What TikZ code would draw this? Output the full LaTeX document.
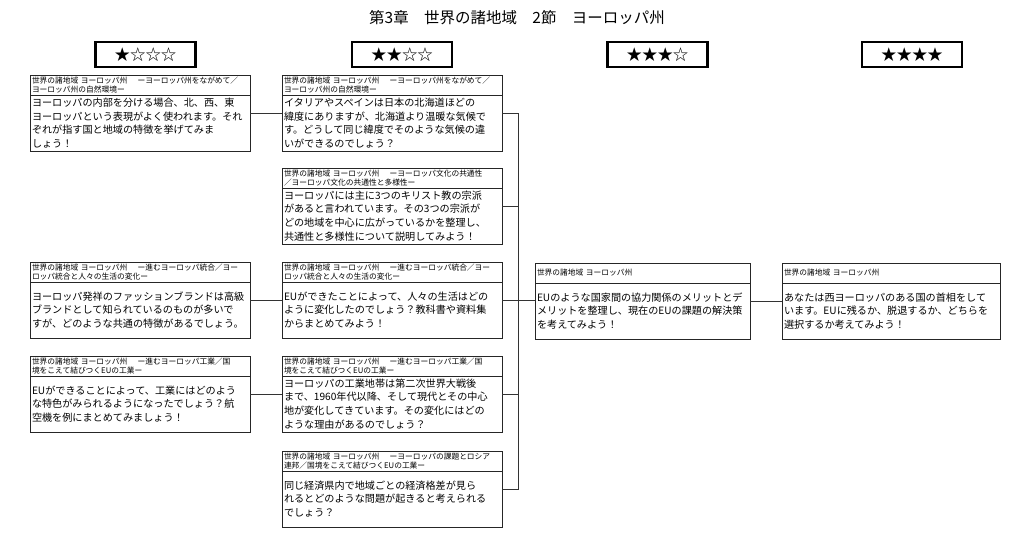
\documentclass[tikz,border=0pt]{standalone}
\usepackage{fontspec}
\setmainfont{Noto Sans CJK JP}
\usetikzlibrary{positioning,fit}

\begin{document}
\begin{tikzpicture}[
    x=0.25mm, y=-0.25mm,
    heading/.style={font=\fontsize{11}{12}\selectfont},
    starbox/.style={draw=black, line width=1.6pt, minimum width=25mm, minimum height=6.25mm, inner sep=0pt, font=\fontsize{11}{12}\selectfont},
    qhead/.style={draw=black!85, line width=0.6pt, outer sep=0pt, anchor=north west, text width=54mm, inner xsep=0.5mm, inner ysep=0.4pt, minimum height=5mm, align=left, font=\fontsize{5.5}{6.8}\selectfont},
    qbody/.style={draw=black!85, line width=0.6pt, outer sep=0pt, text width=54mm, inner xsep=0.5mm, inner ysep=0.4pt, minimum height=14mm, align=left, font=\fontsize{7.2}{9.8}\selectfont},
    qbox/.style={inner sep=0pt, outer sep=0pt},
    link/.style={draw=black!80, line width=0.6pt}
]
    \useasboundingbox (0,0) rectangle (1024,551);

    % Title and level badges
    \node[heading] (title) at (517,18) {第3章　世界の諸地域　2節　ヨーロッパ州};
    \node[starbox] (lv1) at (145.5,54.5) {★☆☆☆};
    \node[starbox] (lv2) at (402,54.5) {★★☆☆};
    \node[starbox] (lv3) at (657.5,54.5) {★★★☆};
    \node[starbox] (lv4) at (912,54.5) {★★★★};

    % ==================== COLUMN 1 ====================
    \node[qhead] (c1a-h) at (30,75) {世界の諸地域 ヨーロッパ州　 ーヨーロッパ州をながめて／\\ヨーロッパ州の自然環境ー};
    \node[qbody, below=0pt of c1a-h] (c1a-b) {ヨーロッパの内部を分ける場合、北、西、東\\ヨーロッパという表現がよく使われます。それ\\ぞれが指す国と地域の特徴を挙げてみま\\しょう！};
    \node[qbox, fit=(c1a-h)(c1a-b)] (c1a) {};

    \node[qhead] (c1b-h) at (30,262) {世界の諸地域 ヨーロッパ州　 ー進むヨーロッパ統合／ヨー\\ロッパ統合と人々の生活の変化ー};
    \node[qbody, below=0pt of c1b-h] (c1b-b) {ヨーロッパ発祥のファッションブランドは高級\\ブランドとして知られているのものが多いで\\すが、どのような共通の特徴があるでしょう。};
    \node[qbox, fit=(c1b-h)(c1b-b)] (c1b) {};

    \node[qhead] (c1c-h) at (30,356) {世界の諸地域 ヨーロッパ州　 ー進むヨーロッパ工業／国\\境をこえて結びつくEUの工業ー};
    \node[qbody, below=0pt of c1c-h] (c1c-b) {EUができることによって、工業にはどのよう\\な特色がみられるようになったでしょう？航\\空機を例にまとめてみましょう！};
    \node[qbox, fit=(c1c-h)(c1c-b)] (c1c) {};

    % ==================== COLUMN 2 ====================
    \node[qhead] (c2a-h) at (282,75) {世界の諸地域 ヨーロッパ州　 ーヨーロッパ州をながめて／\\ヨーロッパ州の自然環境ー};
    \node[qbody, below=0pt of c2a-h] (c2a-b) {イタリアやスペインは日本の北海道ほどの\\緯度にありますが、北海道より温暖な気候で\\す。どうして同じ緯度でそのような気候の違\\いができるのでしょう？};
    \node[qbox, fit=(c2a-h)(c2a-b)] (c2a) {};

    \node[qhead] (c2b-h) at (282,168) {世界の諸地域 ヨーロッパ州　 ーヨーロッパ文化の共通性\\／ヨーロッパ文化の共通性と多様性ー};
    \node[qbody, below=0pt of c2b-h] (c2b-b) {ヨーロッパには主に3つのキリスト教の宗派\\があると言われています。その3つの宗派が\\どの地域を中心に広がっているかを整理し、\\共通性と多様性について説明してみよう！};
    \node[qbox, fit=(c2b-h)(c2b-b)] (c2b) {};

    \node[qhead] (c2c-h) at (282,262) {世界の諸地域 ヨーロッパ州　 ー進むヨーロッパ統合／ヨー\\ロッパ統合と人々の生活の変化ー};
    \node[qbody, below=0pt of c2c-h] (c2c-b) {EUができたことによって、人々の生活はどの\\ように変化したのでしょう？教科書や資料集\\からまとめてみよう！};
    \node[qbox, fit=(c2c-h)(c2c-b)] (c2c) {};

    \node[qhead] (c2d-h) at (282,356) {世界の諸地域 ヨーロッパ州　 ー進むヨーロッパ工業／国\\境をこえて結びつくEUの工業ー};
    \node[qbody, below=0pt of c2d-h] (c2d-b) {ヨーロッパの工業地帯は第二次世界大戦後\\まで、1960年代以降、そして現代とその中心\\地が変化してきています。その変化にはどの\\ような理由があるのでしょう？};
    \node[qbox, fit=(c2d-h)(c2d-b)] (c2d) {};

    \node[qhead] (c2e-h) at (282,451) {世界の諸地域 ヨーロッパ州　 ーヨーロッパの課題とロシア\\連邦／国境をこえて結びつくEUの工業ー};
    \node[qbody, below=0pt of c2e-h] (c2e-b) {同じ経済県内で地域ごとの経済格差が見ら\\れるとどのような問題が起きると考えられる\\でしょう？};
    \node[qbox, fit=(c2e-h)(c2e-b)] (c2e) {};

    % ==================== COLUMNS 3 AND 4 ====================
    \node[qhead, text width=52.75mm] (c3-h) at (535,263) {世界の諸地域 ヨーロッパ州};
    \node[qbody, text width=52.75mm, below=0pt of c3-h] (c3-b) {EUのような国家間の協力関係のメリットとデ\\メリットを整理し、現在のEUの課題の解決策\\を考えてみよう！};
    \node[qbox, fit=(c3-h)(c3-b)] (c3) {};

    \node[qhead, text width=53.5mm] (c4-h) at (782,263) {世界の諸地域 ヨーロッパ州};
    \node[qbody, text width=53.5mm, below=0pt of c4-h] (c4-b) {あなたは西ヨーロッパのある国の首相をして\\います。EUに残るか、脱退するか、どちらを\\選択するか考えてみよう！};
    \node[qbox, fit=(c4-h)(c4-b)] (c4) {};

    % ==================== CONNECTORS ====================
    \coordinate (trunk) at (518,0);
    \draw[link] (c1a.east) -- (c1a.east -| c2a.west);
    \draw[link] (c1b.east) -- (c1b.east -| c2c.west);
    \draw[link] (c1c.east) -- (c1c.east -| c2d.west);
    \draw[link] (c2a.east) -- (c2a.east -| trunk) -- (c2e.east -| trunk) -- (c2e.east);
    \draw[link] (c2b.east) -- (c2b.east -| trunk);
    \draw[link] (c2d.east) -- (c2d.east -| trunk);
    \draw[link] (c2c.east) -- (c2c.east -| c3.west);
    \draw[link] (c3.east) -- (c3.east -| c4.west);

\end{tikzpicture}
\end{document}
